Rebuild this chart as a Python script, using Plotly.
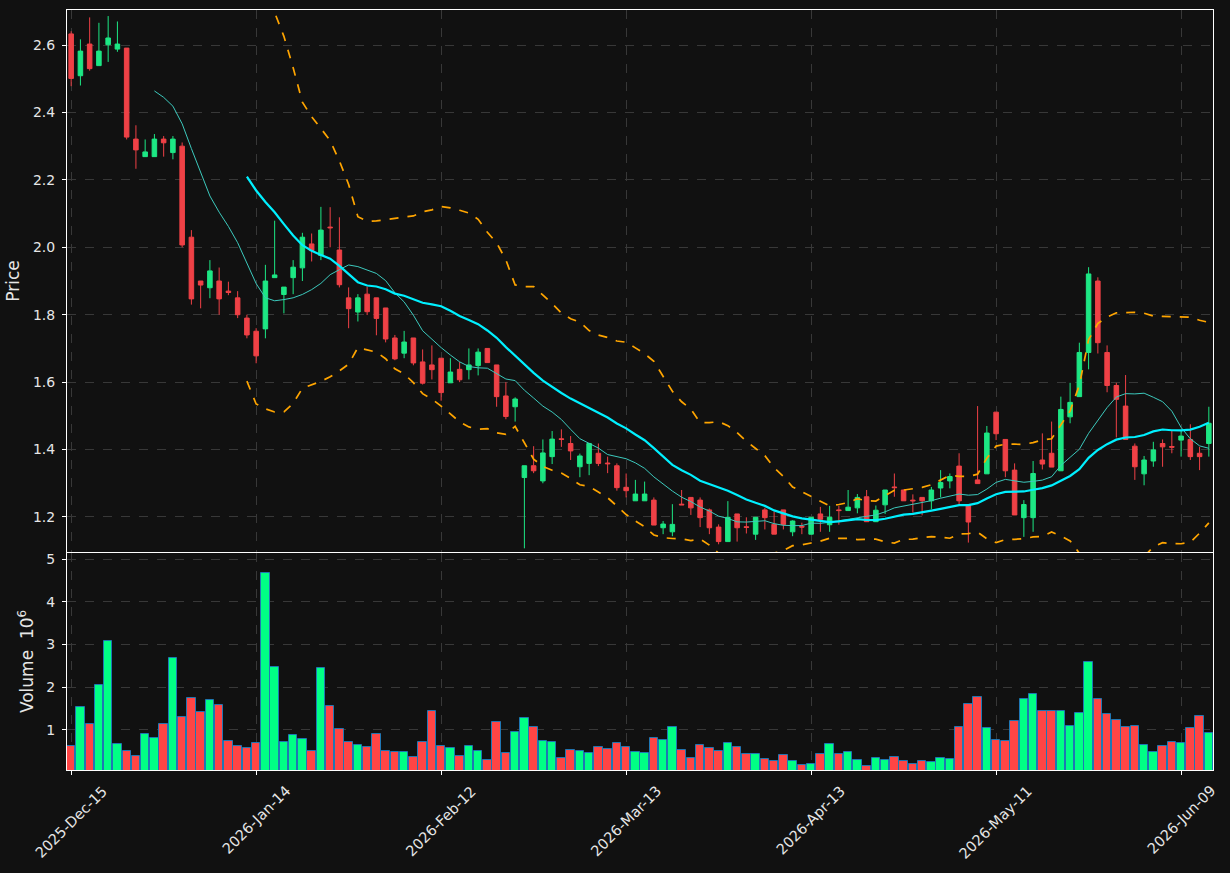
import pandas as pd
import numpy as np
import plotly.graph_objects as go

# ---------------- data ----------------
holidays = ['2025-12-25', '2026-01-01', '2026-01-19', '2026-02-16', '2026-04-03', '2026-05-25']
dates = [d for d in pd.bdate_range('2025-12-15', '2026-06-12') if d.strftime('%Y-%m-%d') not in holidays]

open_ = [2.633, 2.509, 2.603, 2.539, 2.601, 2.588, 2.591, 2.321, 2.269, 2.269,
         2.321, 2.281, 2.300, 2.030, 1.900, 1.880, 1.900, 1.870, 1.850, 1.790,
         1.751, 1.758, 1.910, 1.860, 1.910, 1.939, 2.010, 1.976, 2.060, 1.992,
         1.850, 1.808, 1.861, 1.850, 1.820, 1.731, 1.686, 1.731, 1.660, 1.651,
         1.671, 1.598, 1.638, 1.637, 1.649, 1.700, 1.651, 1.559, 1.527, 1.317,
         1.352, 1.307, 1.379, 1.432, 1.418, 1.349, 1.359, 1.389, 1.360, 1.352,
         1.288, 1.248, 1.248, 1.250, 1.168, 1.156, 1.238, 1.258, 1.250, 1.221,
         1.170, 1.127, 1.209, 1.171, 1.149, 1.221, 1.178, 1.221, 1.156, 1.172,
         1.149, 1.209, 1.177, 1.221, 1.219, 1.227, 1.260, 1.186, 1.236, 1.289,
         1.280, 1.250, 1.258, 1.248, 1.286, 1.307, 1.351, 1.237, 1.310, 1.328,
         1.511, 1.430, 1.339, 1.198, 1.198, 1.369, 1.389, 1.337, 1.497, 1.557,
         1.688, 1.900, 1.688, 1.590, 1.529, 1.410, 1.328, 1.366, 1.418, 1.409,
         1.428, 1.430, 1.389, 1.418]
high = [2.641, 2.617, 2.682, 2.666, 2.686, 2.670, 2.591, 2.362, 2.320, 2.336,
        2.330, 2.330, 2.311, 2.051, 1.900, 1.962, 1.940, 1.898, 1.870, 1.800,
        1.760, 1.948, 2.079, 1.882, 1.962, 2.043, 2.041, 2.120, 2.119, 2.089,
        1.881, 1.861, 1.883, 1.850, 1.820, 1.740, 1.752, 1.731, 1.697, 1.709,
        1.671, 1.671, 1.660, 1.700, 1.700, 1.700, 1.651, 1.600, 1.555, 1.352,
        1.410, 1.430, 1.455, 1.460, 1.440, 1.388, 1.420, 1.418, 1.379, 1.359,
        1.329, 1.310, 1.305, 1.258, 1.188, 1.238, 1.280, 1.258, 1.258, 1.225,
        1.178, 1.247, 1.209, 1.199, 1.200, 1.227, 1.216, 1.221, 1.190, 1.183,
        1.199, 1.230, 1.233, 1.233, 1.280, 1.268, 1.280, 1.234, 1.280, 1.329,
        1.281, 1.267, 1.258, 1.289, 1.339, 1.329, 1.389, 1.237, 1.529, 1.470,
        1.511, 1.430, 1.359, 1.250, 1.366, 1.448, 1.483, 1.557, 1.598, 1.717,
        1.941, 1.911, 1.709, 1.598, 1.621, 1.418, 1.381, 1.423, 1.430, 1.456,
        1.456, 1.475, 1.408, 1.527]
low = [2.478, 2.480, 2.524, 2.539, 2.550, 2.580, 2.320, 2.233, 2.269, 2.269,
       2.269, 2.261, 2.000, 1.830, 1.819, 1.849, 1.800, 1.858, 1.790, 1.730,
       1.656, 1.730, 1.910, 1.804, 1.861, 1.900, 1.958, 1.962, 2.000, 1.881,
       1.760, 1.780, 1.799, 1.739, 1.718, 1.665, 1.671, 1.650, 1.593, 1.608,
       1.545, 1.598, 1.600, 1.608, 1.620, 1.658, 1.527, 1.490, 1.483, 1.107,
       1.330, 1.300, 1.357, 1.408, 1.369, 1.318, 1.324, 1.351, 1.330, 1.278,
       1.258, 1.248, 1.248, 1.176, 1.149, 1.143, 1.236, 1.206, 1.170, 1.149,
       1.119, 1.127, 1.127, 1.151, 1.132, 1.163, 1.149, 1.163, 1.143, 1.149,
       1.148, 1.156, 1.156, 1.177, 1.219, 1.211, 1.186, 1.186, 1.209, 1.260,
       1.248, 1.213, 1.205, 1.223, 1.258, 1.285, 1.238, 1.124, 1.299, 1.328,
       1.428, 1.318, 1.206, 1.141, 1.156, 1.341, 1.348, 1.337, 1.478, 1.557,
       1.638, 1.685, 1.570, 1.436, 1.430, 1.310, 1.294, 1.349, 1.349, 1.389,
       1.379, 1.369, 1.339, 1.379]
close = [2.501, 2.582, 2.530, 2.582, 2.621, 2.603, 2.327, 2.289, 2.283, 2.321,
         2.310, 2.321, 2.007, 1.847, 1.888, 1.930, 1.847, 1.866, 1.800, 1.740,
         1.678, 1.900, 1.918, 1.882, 1.941, 2.030, 1.990, 2.051, 2.058, 1.889,
         1.818, 1.850, 1.809, 1.789, 1.728, 1.669, 1.719, 1.657, 1.597, 1.637,
         1.569, 1.630, 1.607, 1.651, 1.689, 1.658, 1.557, 1.498, 1.550, 1.352,
         1.337, 1.390, 1.431, 1.430, 1.396, 1.381, 1.418, 1.359, 1.358, 1.287,
         1.278, 1.268, 1.268, 1.176, 1.179, 1.178, 1.236, 1.227, 1.198, 1.168,
         1.127, 1.199, 1.168, 1.169, 1.199, 1.198, 1.149, 1.178, 1.188, 1.170,
         1.199, 1.193, 1.199, 1.219, 1.229, 1.258, 1.186, 1.220, 1.280, 1.287,
         1.248, 1.248, 1.248, 1.280, 1.302, 1.320, 1.248, 1.185, 1.299, 1.449,
         1.447, 1.337, 1.206, 1.237, 1.329, 1.357, 1.348, 1.519, 1.540, 1.688,
         1.921, 1.717, 1.590, 1.549, 1.430, 1.349, 1.369, 1.399, 1.408, 1.407,
         1.440, 1.379, 1.379, 1.478]
volume = [633000, 1531000, 1133000, 2045000, 3075000, 665000, 501000, 392000, 899000, 805000,
          1133000, 2677000, 1297000, 1741000, 1414000, 1695000, 1578000, 735000, 618000, 571000,
          688000, 4665000, 2466000, 711000, 875000, 782000, 501000, 2443000, 1554000, 1016000,
          711000, 641000, 595000, 899000, 501000, 478000, 478000, 361000, 711000, 1437000,
          618000, 571000, 384000, 618000, 501000, 306000, 1180000, 454000, 945000, 1273000,
          1062000, 735000, 711000, 337000, 525000, 501000, 454000, 595000, 548000, 688000,
          595000, 478000, 454000, 805000, 758000, 1062000, 525000, 337000, 641000, 571000,
          501000, 688000, 595000, 431000, 431000, 314000, 267000, 408000, 267000, 174000,
          197000, 431000, 665000, 431000, 478000, 291000, 151000, 337000, 291000, 361000,
          267000, 197000, 267000, 244000, 337000, 314000, 1062000, 1601000, 1765000, 1039000,
          758000, 735000, 1203000, 1718000, 1835000, 1437000, 1437000, 1437000, 1086000, 1390000,
          2584000, 1718000, 1367000, 1227000, 1062000, 1086000, 641000, 478000, 618000, 711000,
          688000, 1039000, 1320000, 922000]

ma_short = 10
ma_long = 20
tick_every = 20

# ---------------- derived ----------------
idx = list(range(len(dates)))
cs = pd.Series(close)
ma10 = cs.rolling(ma_short).mean()
ma20 = cs.rolling(ma_long).mean()
sd20 = cs.rolling(ma_long).std(ddof=0)
bb_up = ma20 + 2 * sd20
bb_lo = ma20 - 2 * sd20

UP_C = '#1de784'
DN_C = '#ef4146'
VOL_UP = '#00ff85'
VOL_DN = '#ff4545'
vol_colors = [VOL_UP if c >= o else VOL_DN for o, c in zip(open_, close)]
vol_m = [v / 1e6 for v in volume]

tickvals = idx[::tick_every]
ticktext = [dates[i].strftime('%Y-%b-%d') for i in tickvals]

fig = go.Figure()
fig.add_trace(go.Candlestick(
    x=idx, open=open_, high=high, low=low, close=close,
    increasing=dict(line=dict(color=UP_C, width=1), fillcolor=UP_C),
    decreasing=dict(line=dict(color=DN_C, width=1), fillcolor=DN_C),
    whiskerwidth=0, xaxis='x', yaxis='y', showlegend=False))
fig.add_trace(go.Scatter(x=idx, y=ma10, mode='lines', line=dict(color='#3cc9bd', width=1),
                         xaxis='x', yaxis='y', showlegend=False))
fig.add_trace(go.Scatter(x=idx, y=ma20, mode='lines', line=dict(color='#00f0ff', width=2.2),
                         xaxis='x', yaxis='y', showlegend=False))
fig.add_trace(go.Scatter(x=idx, y=bb_up, mode='lines', line=dict(color='#ffa500', width=1.7, dash='dash'),
                         xaxis='x', yaxis='y', showlegend=False))
fig.add_trace(go.Scatter(x=idx, y=bb_lo, mode='lines', line=dict(color='#ffa500', width=1.7, dash='dash'),
                         xaxis='x', yaxis='y', showlegend=False))
fig.add_trace(go.Bar(x=idx, y=vol_m, marker=dict(color=vol_colors, line=dict(color='#1f77b4', width=1)),
                     width=0.9, xaxis='x2', yaxis='y2', showlegend=False))

BG = '#111111'
GRID = '#383838'
TXT = '#e6e6e6'
font = dict(family='DejaVu Sans', size=14, color=TXT)
xr = [-0.45, len(idx) - 1 + 0.45]

common_x = dict(range=xr, tickvals=tickvals, showgrid=True, gridcolor=GRID, griddash='dash',
                gridwidth=1, showline=True, linecolor='white', linewidth=1, mirror=True,
                zeroline=False, ticks='outside', ticklen=4, tickcolor='white', automargin=False)
common_y = dict(showgrid=True, gridcolor=GRID, griddash='dash', showline=True, linecolor='white',
                mirror=True, zeroline=False, ticks='outside', ticklen=4, tickcolor='white',
                automargin=False, ticklabelstandoff=4)
fig.update_layout(
    width=1230, height=873, paper_bgcolor=BG, plot_bgcolor=BG, font=font,
    margin=dict(l=67, r=17, t=10, b=103, autoexpand=False), bargap=0,
    xaxis=dict(common_x, anchor='y', showticklabels=False, ticks='', rangeslider=dict(visible=False),
               matches='x2'),
    xaxis2=dict(common_x, anchor='y2', showticklabels=False),
    yaxis=dict(common_y, domain=[0.2868, 1.0], range=[1.096, 2.704],
               tickvals=[1.2, 1.4, 1.6, 1.8, 2.0, 2.2, 2.4, 2.6], tickformat='.1f',
               title=dict(text='Price', standoff=8)),
    yaxis2=dict(common_y, domain=[0.0, 0.2855], range=[0.064, 5.14], tickvals=[1, 2, 3, 4, 5],
                title=dict(text='Volume  10<sup>6</sup>', standoff=8)),
)

# rotated, centre-aligned date labels (like matplotlib's rotation=45)
for tv, tt in zip(tickvals, ticktext):
    fig.add_annotation(x=tv, y=0, xref='x2', yref='paper', text=tt, textangle=-45,
                       xanchor='center', yanchor='top', yshift=-10, showarrow=False,
                       font=dict(family='DejaVu Sans', size=14.5, color=TXT))

fig.write_html('out.html')
